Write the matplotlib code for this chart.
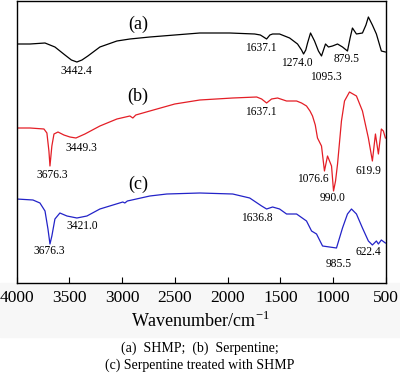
import matplotlib
matplotlib.use("Agg")
import matplotlib.pyplot as plt
from matplotlib.patches import Rectangle

plt.rcParams['font.family'] = ['Liberation Serif', 'DejaVu Serif']
plt.rcParams['mathtext.fontset'] = 'custom'
plt.rcParams['mathtext.rm'] = 'Liberation Serif'

# (a) SHMP
wn_a = [4000, 3872, 3730, 3636, 3541, 3480, 3428, 3380, 3324, 3210, 3049, 2926, 2737, 2501, 2264,
        1980, 1744, 1690, 1660, 1631, 1600, 1574, 1508, 1413, 1338, 1300, 1281, 1260, 1243, 1215,
        1177, 1140, 1111, 1073, 1045, 1007, 959, 912, 865, 840, 818, 780, 723, 690, 667, 629,
        591, 544, 506]
t_a = [239, 239, 240, 236, 228, 223, 221, 223, 227, 236, 242, 244, 246, 248, 250,
       250, 249, 248, 246, 244, 248, 249, 249, 245, 239, 233, 229, 233, 240, 250,
       242, 232, 227, 239, 236, 237, 239, 236, 232, 245, 255, 249, 250, 258, 266, 258,
       249, 232, 231]

# (b) Serpentine
wn_b = [4000, 3872, 3740, 3712, 3693, 3683, 3665, 3645, 3607, 3551, 3494, 3437, 3352,
        3210, 3049, 2926, 2898, 2870, 2737, 2501, 2264, 1952, 1725, 1678, 1631, 1584,
        1527, 1442, 1347, 1300, 1253, 1220, 1196, 1170, 1149, 1111, 1083, 1054, 1016, 997,
        978, 959, 922, 893, 846, 780, 723, 667, 629, 600, 572, 544, 525, 506]
t_b = [155, 155, 154, 150, 132, 117, 137, 149, 151, 148, 146, 145, 149,
       157, 164, 167, 165, 168, 172, 179, 183, 185, 186, 184, 180, 184,
       185, 182, 182, 180, 177, 172, 167, 158, 145, 137, 112, 127, 117, 92,
       102, 119, 162, 182, 191, 187, 172, 145, 122, 149, 129, 154, 152, 145]

# (c) Serpentine treated with SHMP
wn_c = [4000, 3844, 3778, 3730, 3702, 3683, 3665, 3636, 3589, 3522, 3428, 3333, 3210,
        2993, 2974, 2950, 2737, 2576, 2264, 1952, 1791, 1678, 1631, 1574, 1508, 1442, 1347,
        1253, 1205, 1158, 1101, 1035, 969, 912, 865, 827, 780, 723, 667, 629, 591,
        572, 544, 506]
t_c = [84, 83, 80, 72, 54, 39, 47, 64, 70, 67, 65, 67, 74,
       81, 80, 82, 87, 89, 90, 89, 85, 77, 74, 76, 74, 69, 69,
       62, 52, 49, 37, 36, 35, 55, 69, 74, 69, 55, 42, 38, 42,
       39, 43, 40]

# peak labels: text, wavenumber pos, y pos
peak_labels = [
    ("3442.4", 3437, 212), ("1637.1", 1687, 235), ("1274.0", 1346, 220),
    ("1095.3", 1073, 206), ("879.5", 874, 224),
    ("3676.3", 3664, 108), ("3449.3", 3389, 135), ("1637.1", 1687, 171),
    ("1076.6", 1196, 104), ("990.0", 1007, 85), ("619.9", 666, 112),
    ("3421.0", 3380, 57), ("3676.3", 3693, 32), ("1636.8", 1725, 65),
    ("985.5", 946, 19), ("622.4", 666, 31),
]
curve_names = [("(a)", 2851, 259), ("(b)", 2851, 187), ("(c)", 2851, 99)]

fig = plt.figure(figsize=(4.0, 3.79), dpi=100)
fig.patches.append(Rectangle((0, (379 - 337) / 379), 1, (337 - 283) / 379,
                             transform=fig.transFigure, color='#f7f7f7', zorder=-5))
ax = fig.add_axes([16.5 / 400, (379 - 283) / 379, (386 - 16.5) / 400, 282 / 379])

ax.plot(wn_a, t_a, color='black', lw=0.9)
ax.plot(wn_b, t_b, color='#e41e26', lw=0.9)
ax.plot(wn_c, t_c, color='#2323c8', lw=0.9)

for txt, x, y in peak_labels:
    ax.text(x, y, txt, ha='center', va='center', fontsize=8.3)
for txt, x, y in curve_names:
    ax.text(x, y, txt, ha='center', va='center', fontsize=13)

ax.set_xlim(4000, 500)
ax.set_ylim(0, 282)
ax.set_xticks([4000, 3500, 3000, 2500, 2000, 1500, 1000, 500])
ax.set_yticks([])
ax.tick_params(axis='x', direction='in', length=4, width=0.8, labelsize=12.5, pad=5)
for s in ax.spines.values():
    s.set_linewidth(1.0)

fig.text(0.5, 1 - 321 / 379, r'Wavenumber/cm$^{\mathregular{-1}}$', ha='center', va='center', fontsize=13)
fig.text(0.5, 1 - 348 / 379, '(a)  SHMP;  (b)  Serpentine;', ha='center', va='center', fontsize=10)
fig.text(0.5, 1 - 365 / 379, '(c) Serpentine treated with SHMP', ha='center', va='center', fontsize=10)

fig.savefig('out.png', dpi=100)
